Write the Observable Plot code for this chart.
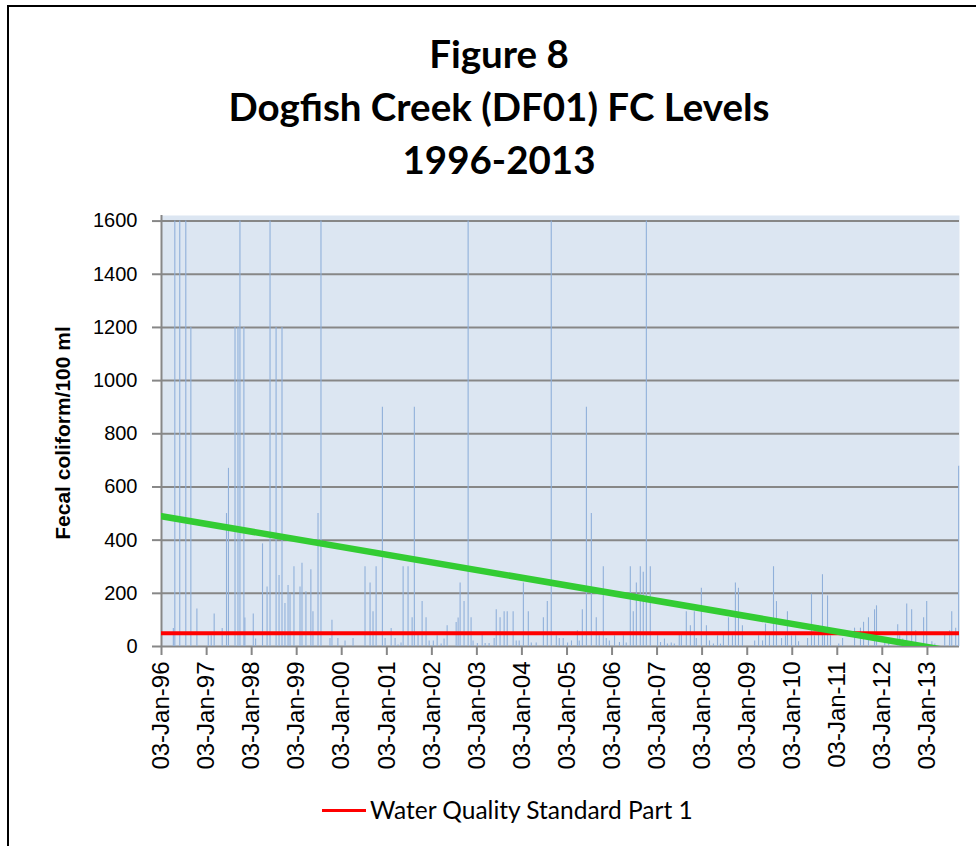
<!DOCTYPE html>
<html><head><meta charset="utf-8">
<script src="https://cdn.jsdelivr.net/npm/d3@7"></script>
<script src="https://cdn.jsdelivr.net/npm/@observablehq/plot@0.6"></script>
<style>
html,body{margin:0;padding:0;background:#fff;}
#wrap{position:relative;width:976px;height:846px;overflow:hidden;font-family:"Liberation Sans",Arial,sans-serif;}
#border{position:absolute;left:7px;top:5px;width:1000px;height:900px;border:2px solid #000;box-sizing:border-box;}
.title{position:absolute;left:0;width:998px;text-align:center;font-family:Lato,sans-serif;font-weight:bold;font-size:38.5px;line-height:40px;color:#000;}
#chart{position:absolute;left:0;top:190px;}
#legend{position:absolute;top:795px;left:322px;display:flex;align-items:center;font-family:Lato,sans-serif;font-size:24.5px;line-height:30px;}
#legend .sw{width:44px;height:3px;background:#ff0000;margin-right:4px;}
</style></head>
<body>
<div id="wrap">
  <div id="border"></div>
  <div class="title" style="top:33px">Figure 8</div>
  <div class="title" style="top:86px">Dogfish Creek (DF01) FC Levels</div>
  <div class="title" style="top:139px">1996-2013</div>
  <div id="chart"></div>
  <div id="legend"><div class="sw"></div><span>Water Quality Standard Part 1</span></div>
</div>
<script>
const sampleDates = [
"1996-04-08","1996-04-20","1996-05-30","1996-07-18","1996-08-28","1996-10-16",
"1997-01-16","1997-02-09","1997-03-05","1997-05-09","1997-06-13","1997-06-29","1997-08-21","1997-09-14","1997-09-30","1997-11-01","1997-11-09",
"1998-01-16","1998-02-04","1998-04-01","1998-05-08","1998-06-01","1998-07-20","1998-08-13","1998-09-06","1998-09-30","1998-10-25","1998-11-10","1998-12-12",
"1999-01-30","1999-02-15","1999-03-19","1999-04-28","1999-05-15","1999-06-25","1999-07-19","1999-09-30","1999-10-16","1999-12-03",
"2000-01-30","2000-04-04","2000-07-10","2000-08-20","2000-09-13","2000-10-08","2000-11-28","2000-12-20",
"2001-02-07","2001-03-11","2001-04-04","2001-04-28","2001-05-15","2001-06-24","2001-07-27","2001-08-14","2001-09-13","2001-10-16","2001-11-17","2001-12-12",
"2002-01-15","2002-02-15","2002-03-19","2002-04-12","2002-05-07","2002-07-19","2002-08-04","2002-08-20","2002-09-21","2002-10-24","2002-11-17","2002-12-03",
"2003-01-07","2003-02-15","2003-03-11","2003-04-12","2003-05-23","2003-06-09","2003-07-10","2003-08-12","2003-09-06","2003-10-24","2003-11-18","2003-12-12",
"2004-01-15","2004-02-24","2004-03-19","2004-04-28","2004-06-25","2004-07-27","2004-08-28","2004-10-08","2004-11-01","2004-12-03",
"2005-01-07","2005-02-08","2005-03-28","2005-04-12","2005-05-07","2005-06-09","2005-07-19","2005-08-28","2005-09-21","2005-10-24","2005-11-17","2005-12-12",
"2006-01-23","2006-03-04","2006-04-05","2006-04-28","2006-05-31","2006-06-24","2006-07-19","2006-08-20","2006-09-13","2006-10-08","2006-11-09",
"2007-01-07","2007-01-31","2007-03-04","2007-03-28","2007-04-28","2007-05-23","2007-07-02","2007-07-19","2007-08-28","2007-09-30","2007-11-01","2007-11-17","2007-12-28",
"2008-02-07","2008-03-03","2008-04-04","2008-05-07","2008-05-31","2008-06-24","2008-08-04","2008-09-05","2008-09-29","2008-10-24","2008-11-25",
"2009-03-04","2009-04-05","2009-05-07","2009-05-31","2009-07-02","2009-08-04","2009-08-28","2009-10-08","2009-11-09","2009-11-25","2009-12-28",
"2010-01-30","2010-02-23","2010-05-07","2010-06-08","2010-07-02","2010-08-04","2010-09-05","2010-09-21","2010-10-16","2010-11-09",
"2011-01-15","2011-02-15","2011-05-23","2011-07-10","2011-08-04","2011-09-13","2011-11-01","2011-11-17",
"2012-01-23","2012-02-24","2012-05-07","2012-05-23","2012-06-17","2012-07-19","2012-08-28","2012-09-30","2012-12-03","2012-12-28",
"2013-02-08","2013-03-04","2013-05-23","2013-07-02","2013-07-19","2013-08-20","2013-09-13"
];
const fcValues = [
68,1600,1600,1600,1200,141,
40,40,122,68,500,670,1200,1200,1600,1200,107,
122,28,386,224,1600,1200,267,1200,162,229,197,300,
224,313,206,289,131,500,1600,30,99,30,
21,30,300,239,131,300,900,30,
68,30,6,13,300,300,108,900,43,169,108,21,
21,40,9,28,78,90,107,239,169,1600,108,21,
11,43,11,11,30,138,108,131,131,131,21,21,
239,131,13,13,108,169,1600,40,30,30,
13,21,59,21,138,900,500,108,40,300,30,21,
40,15,40,13,300,131,239,300,279,1600,300,
40,15,28,9,13,9,43,43,131,78,131,30,219,
78,21,9,40,9,43,108,40,239,219,78,
21,40,21,84,40,300,169,30,40,131,40,
40,18,30,197,40,78,270,40,190,40,
9,30,69,69,91,108,138,153,
28,13,82,40,28,160,138,59,108,169,
18,9,43,59,131,69,678
];
const standardValue = 50;
const trendDates = ["1996-01-03", "2013-09-13"];
const trendValues = [490, -22];
const xDomain = ["1996-01-03", "2013-09-20"];
const yDomainMax = 1621;
const yTicks = [0, 200, 400, 600, 800, 1000, 1200, 1400, 1600];
const xTickDates = ["1996-01-03","1997-01-03","1998-01-03","1999-01-03","2000-01-03","2001-01-03","2002-01-03","2003-01-03","2004-01-03","2005-01-03","2006-01-03","2007-01-03","2008-01-03","2009-01-03","2010-01-03","2011-01-03","2012-01-03","2013-01-03"];
const xTickLabels = ["03-Jan-96","03-Jan-97","03-Jan-98","03-Jan-99","03-Jan-00","03-Jan-01","03-Jan-02","03-Jan-03","03-Jan-04","03-Jan-05","03-Jan-06","03-Jan-07","03-Jan-08","03-Jan-09","03-Jan-10","03-Jan-11","03-Jan-12","03-Jan-13"];
const yLabel = "Fecal coliform/100 ml";

const parse = d3.utcParse("%Y-%m-%d");
const samples = sampleDates.map((d, i) => ({date: parse(d), value: fcValues[i]}));
const trend = trendDates.map((d, i) => ({date: parse(d), value: trendValues[i]}));
const tickDates = xTickDates.map(parse);
const labelOf = new Map(tickDates.map((d, i) => [+d, xTickLabels[i]]));
const gray = "#878787";

const chart = Plot.plot({
  width: 976,
  height: 610,
  marginLeft: 161,
  marginRight: 17,
  marginTop: 25,
  marginBottom: 154,
  style: {fontFamily: "'Liberation Sans', Arial, sans-serif", fontSize: "20px", color: "#000", background: "transparent", overflow: "visible"},
  x: {type: "utc", domain: xDomain.map(parse)},
  y: {domain: [0, yDomainMax]},
  marks: [
    Plot.frame({fill: "#dce6f2", stroke: null}),
    Plot.ruleY(yTicks, {stroke: gray, strokeWidth: 2}),
    Plot.ruleX(samples, {x: "date", y1: 0, y2: "value", stroke: "#90b0da", strokeWidth: 1.1}),
    Plot.ruleX([parse(xDomain[0])], {stroke: gray, strokeWidth: 2}),
    Plot.ruleY([standardValue], {stroke: "#ff0000", strokeWidth: 4}),
    Plot.line(trend, {x: "date", y: "value", stroke: "#33cc33", strokeWidth: 6.5, clip: true}),
    Plot.axisY({ticks: yTicks, tickSize: 9, tickPadding: 15, stroke: gray, strokeWidth: 2, fill: "#000", fontSize: 20, label: null, tickFormat: d => String(d)}),
    Plot.axisX({ticks: tickDates, tickFormat: d => labelOf.get(+d), tickRotate: -90, tickSize: 9, tickPadding: 6, stroke: gray, strokeWidth: 2, fill: "#000", fontSize: 24, label: null}),
    Plot.text([yLabel], {frameAnchor: "left", dx: -98, dy: 2, rotate: -90, fontWeight: "bold", fontSize: 21, textAnchor: "middle", fill: "#000"})
  ]
});
document.getElementById("chart").appendChild(chart);
</script>
</body></html>
